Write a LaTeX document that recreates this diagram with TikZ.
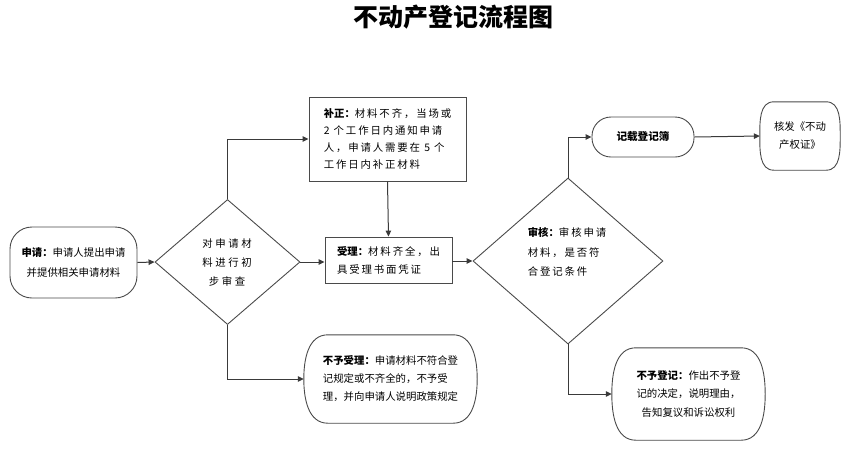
\documentclass[tikz,border=0pt]{standalone}
\usepackage{fontspec}
\setmainfont{Noto Sans CJK SC}
\newfontfamily\widea[LetterSpace=18]{Noto Sans CJK SC}
\newfontfamily\wideb[LetterSpace=25]{Noto Sans CJK SC}
\usetikzlibrary{shapes.geometric,arrows.meta}
\definecolor{edge}{HTML}{3A3A3A}
\definecolor{bord}{HTML}{4A4A4A}
\tikzset{
  box/.style={draw=bord, line width=0.9pt, rectangle, inner sep=0pt, align=left},
  rbox/.style={box, rounded corners=#1},
  ebox/.style={rectangle, inner sep=0pt},
  outline/.style={draw=bord, line width=0.9pt},
  dia/.style={draw=bord, line width=0.9pt, diamond, inner sep=0pt, aspect=1.16},
  arr/.style={draw=edge, line width=1pt, -{Triangle[length=6pt,width=5.5pt]}},
}
\newcommand{\ellends}[2]{%
  \draw[outline] ([xshift=#2]#1.north west) -- ([xshift=-#2]#1.north east)
    to[out=0,in=90] (#1.east) to[out=270,in=0] ([xshift=-#2]#1.south east)
    -- ([xshift=#2]#1.south west) to[out=180,in=270] (#1.west)
    to[out=90,in=180] cycle;}
\begin{document}
\begin{tikzpicture}[x=1pt,y=-1pt]
\useasboundingbox (0,0) rectangle (860,451);
\node[font=\fontsize{25}{28}\selectfont\bfseries] (title) at (453,17) {不动产登记流程图};

\node[rbox=22, minimum width=127, minimum height=71, align=center,
  font=\fontsize{10.4}{20}\selectfont] (sq) at (73.5,262.5)
  {{\bfseries 申请：}申请人提出申请\\并提供相关申请材料};

\node[dia, minimum width=145, minimum height=125] (d1) at (227.5,262) {};
\node[align=center, font=\wideb\fontsize{10.4}{19}\selectfont] (d1t) at (227,263)
  {对申请材\\料进行初\\步审查};

\node[box, minimum width=157, minimum height=84, font=\widea\fontsize{10.4}{16.7}\selectfont] (bz) at (387.5,139)
  {{\normalfont\bfseries 补正：}材料不齐，当场或\\2 个工作日内通知申请\\人，申请人需要在 5 个\\工作日内补正材料};

\node[box, minimum width=127, minimum height=46, font=\widea\fontsize{10.4}{18}\selectfont] (sl) at (388.5,260)
  {{\normalfont\bfseries 受理：}材料齐全，出\\具受理书面凭证};

\node[ebox, minimum width=173, minimum height=88, align=left, font=\fontsize{10.4}{18}\selectfont] (bysl) at (390.5,379)
  {{\bfseries 不予受理：}申请材料不符合登\\记规定或不齐全的，不予受\\理，并向申请人说明政策规定};
\ellends{bysl}{24}

\node[dia, minimum width=190, minimum height=166] (d2) at (568,261) {};
\node[align=left, font=\widea\fontsize{10.4}{19.5}\selectfont] (d2t) at (567,252)
  {{\normalfont\bfseries 审核：}审核申请\\材料，是否符\\合登记条件};

\node[rbox=19, minimum width=102, minimum height=40, font=\fontsize{10.6}{14}\selectfont\bfseries] (jz) at (643,137)
  {记载登记簿};

\node[ebox, minimum width=80, minimum height=68, align=center, font=\fontsize{10.4}{18}\selectfont] (hf) at (800,136)
  {核发《不动\\产权证》};
\ellends{hf}{14}

\node[ebox, minimum width=153, minimum height=92, align=center, font=\fontsize{10.4}{18.5}\selectfont] (bydj) at (688.5,394)
  {{\bfseries 不予登记：}作出不予登\\记的决定，说明理由，\\告知复议和诉讼权利};
\ellends{bydj}{24}

\draw[arr] (sq.east) -- (d1.west);
\draw[arr] (d1.north) |- (bz.west);
\draw[arr] (d1.east) -- (d1.east -| sl.west);
\draw[arr] (bz.south) -- (sl.north);
\draw[arr] (d1.south) |- (bysl.west);
\draw[arr] (sl.east |- d2.west) -- (d2.west);
\draw[arr] (d2.north) |- (jz.west);
\draw[arr] (jz.east) -- (hf.west);
\draw[arr] (d2.south) |- (bydj.west);
\end{tikzpicture}
\end{document}
